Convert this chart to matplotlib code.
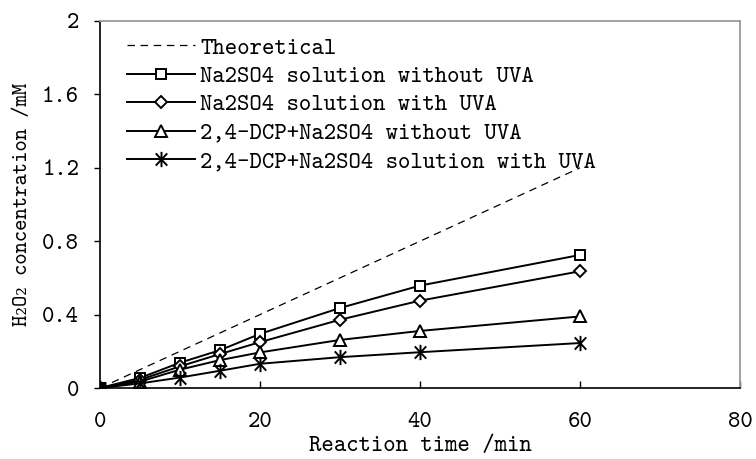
import matplotlib
matplotlib.use("Agg")
import matplotlib.pyplot as plt
from matplotlib.path import Path

plt.rcParams['font.family'] = ['cmtt10', 'DejaVu Serif']

# Reaction time (min)
time = [0, 5, 10, 15, 20, 30, 40, 60]
theory_time = [0, 60]
theory_conc = [0, 1.2]

# H2O2 concentration (mM)
na2so4_dark = [0, 0.055, 0.138, 0.206, 0.295, 0.436, 0.558, 0.725]
na2so4_uva = [0, 0.045, 0.118, 0.185, 0.250, 0.372, 0.476, 0.636]
dcp_dark = [0, 0.035, 0.100, 0.152, 0.194, 0.262, 0.311, 0.390]
dcp_uva = [0, 0.025, 0.057, 0.094, 0.132, 0.168, 0.195, 0.245]

labels = ["Theoretical",
          "Na2SO4 solution without UVA",
          "Na2SO4 solution with UVA",
          "2,4-DCP+Na2SO4 without UVA",
          "2,4-DCP+Na2SO4 solution with UVA"]

xticks = [0, 20, 40, 60, 80]
yticks = [0, 0.4, 0.8, 1.2, 1.6, 2.0]
yticklabels = ["0", "0.4", "0.8", "1.2", "1.6", "2"]

FS = 17

# six-armed asterisk: vertical bar crossed by an X
star = Path([(0, -1), (0, 1), (-0.75, -0.8), (0.75, 0.8), (-0.75, 0.8), (0.75, -0.8)],
            [Path.MOVETO, Path.LINETO, Path.MOVETO, Path.LINETO, Path.MOVETO, Path.LINETO])

fig = plt.figure(figsize=(7.56, 4.59), dpi=100)
ax = fig.add_axes([100/756, 1 - 388/459, 640/756, 367/459])

ax.plot(theory_time, theory_conc, color='black', lw=0.9, ls=(0, (6, 4.5)), label=labels[0])
common = dict(color='black', lw=1.4, mfc='white', mec='black', mew=1.4)
ax.plot(time, na2so4_dark, marker='s', ms=7, label=labels[1], **common)
ax.plot(time, na2so4_uva, marker='D', ms=6.3, label=labels[2], **common)
ax.plot(time, dcp_dark, marker='^', ms=8, label=labels[3], **common)
ax.plot(time, dcp_uva, marker=star, ms=11, label=labels[4], **common)

ax.set_xlim(0, 80)
ax.set_ylim(0, 2)
ax.set_xticks(xticks)
ax.set_yticks(yticks)
ax.set_yticklabels(yticklabels)
ax.tick_params(axis='x', direction='in', length=5, width=1, pad=17, labelsize=FS)
ax.tick_params(axis='y', direction='out', length=4, width=1, pad=11, labelsize=FS)

for side in ('top', 'right'):
    ax.spines[side].set_color('#9a9a9a')
    ax.spines[side].set_linewidth(1.3)
for side in ('left', 'bottom'):
    ax.spines[side].set_color('black')
    ax.spines[side].set_linewidth(1.2)

ax.set_xlabel("Reaction time /min", fontsize=FS, labelpad=2.5)
ax.set_ylabel("H\u2082O\u2082 concentration /mM", fontsize=15.5, labelpad=7)

leg = ax.legend(loc='upper left', bbox_to_anchor=(0.02, 0.995), frameon=False,
                fontsize=FS, handlelength=2.9, handletextpad=0.2,
                labelspacing=0.25, borderaxespad=0.2)

fig.savefig("out.png", dpi=100)
